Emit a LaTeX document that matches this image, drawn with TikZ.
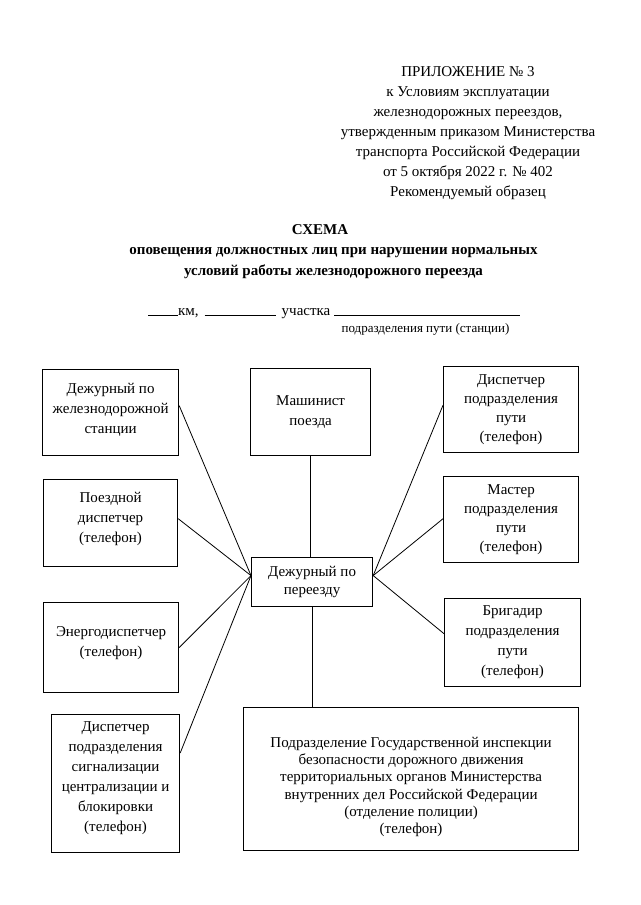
\documentclass[tikz,border=0pt]{standalone}
\usepackage{fontspec}
\setmainfont{Liberation Serif}
\usetikzlibrary{calc}
\newcommand\lowpad[1]{\rule[-#1]{0pt}{0pt}}
\newcommand\toppad[1]{\rule{0pt}{#1}}
\tikzset{
 box/.style={draw, line width=1.2pt, anchor=north west, inner sep=0pt, align=center,
   font=\fontsize{15}{20}\selectfont},
 conn/.style={line width=0.8pt},
 hdr/.style={align=center, inner sep=0pt, font=\fontsize{15}{20}\selectfont},
 ttl/.style={align=center, inner sep=0pt, font=\fontsize{15}{20.5}\selectfont\bfseries},
 small/.style={inner sep=0pt, font=\fontsize{13}{15}\selectfont}
}
\begin{document}
\begin{tikzpicture}[x=1pt,y=-1pt]
\useasboundingbox[fill=white] (0,0) rectangle (640,905);

% header
\node[hdr] (hdr) at (468,133.5) {ПРИЛОЖЕНИЕ № 3\\к Условиям эксплуатации\\железнодорожных переездов,\\утвержденным приказом Министерства\\транспорта Российской Федерации\\от 5 октября 2022 г. № 402\\Рекомендуемый образец};

% title
\node[ttl] (ttl) at (320,229.5) {СХЕМА};
\node[ttl] (ttl2) at (333.5,263) {оповещения должностных лиц при нарушении нормальных\\условий работы железнодорожного переезда};

\node[hdr, anchor=base west] (km) at (148,315) {\rule[-1pt]{30pt}{0.6pt}км,\hspace{6pt}\rule[-1pt]{71pt}{0.6pt}\hspace{6pt}участка \rule[-1pt]{186pt}{0.6pt}};
\node[small, anchor=base] (sub) at (425.5,332) {подразделения пути (станции)};

% boxes
\node[box, minimum width=136pt, minimum height=86pt] (b1) at (42,369) {Дежурный по\\железнодорожной\\станции\lowpad{8pt}};
\node[box, minimum width=120pt, minimum height=87pt] (m) at (250,368) {Машинист\\поезда};
\node[box, minimum width=135pt, minimum height=86pt, font=\fontsize{15}{19}\selectfont] (dp) at (443,366) {Диспетчер\\подразделения\\пути\\(телефон)};
\node[box, minimum width=134pt, minimum height=87pt] (pd) at (43,479) {Поездной\\диспетчер\\(телефон)\lowpad{12pt}};
\node[box, minimum width=135pt, minimum height=86pt, font=\fontsize{15}{19}\selectfont] (ms) at (443,476) {Мастер\\подразделения\\пути\\(телефон)};
\node[box, minimum width=121pt, minimum height=49pt, font=\fontsize{15}{18}\selectfont] (c) at (251,557) {Дежурный по\\переезду};
\node[box, minimum width=135pt, minimum height=90pt] (en) at (43,602) {Энергодиспетчер\\(телефон)\lowpad{12pt}};
\node[box, minimum width=136pt, minimum height=88pt] (br) at (444,598) {Бригадир\\подразделения\\пути\\(телефон)};
\node[box, minimum width=128pt, minimum height=138pt] (scb) at (51,714) {Диспетчер\\подразделения\\сигнализации\\централизации и\\блокировки\\(телефон)\lowpad{14pt}};
\node[box, minimum width=335pt, minimum height=143pt, font=\fontsize{15}{17.3}\selectfont] (g) at (243,707) {\toppad{26pt}Подразделение Государственной инспекции\\безопасности дорожного движения\\территориальных органов Министерства\\внутренних дел Российской Федерации\\(отделение полиции)\\(телефон)};

% hub points
\coordinate (hl) at ($(c.north west)!0.37!(c.south west)$);
\coordinate (hr) at ($(c.north east)!0.37!(c.south east)$);

% connectors
\draw[conn] (hl) -- ($(b1.north east)!0.42!(b1.south east)$);
\draw[conn] (hl) -- ($(pd.north east)!0.45!(pd.south east)$);
\draw[conn] (hl) -- ($(en.north east)!0.5!(en.south east)$);
\draw[conn] (hl) -- ($(scb.north east)!0.28!(scb.south east)$);
\draw[conn] (hr) -- ($(dp.north west)!0.45!(dp.south west)$);
\draw[conn] (hr) -- ($(ms.north west)!0.49!(ms.south west)$);
\draw[conn] (hr) -- ($(br.north west)!0.4!(br.south west)$);
\draw[conn] (m.south) -- (m.south |- c.north);
\draw[conn] (c.south) -- (c.south |- g.north);
\end{tikzpicture}
\end{document}
